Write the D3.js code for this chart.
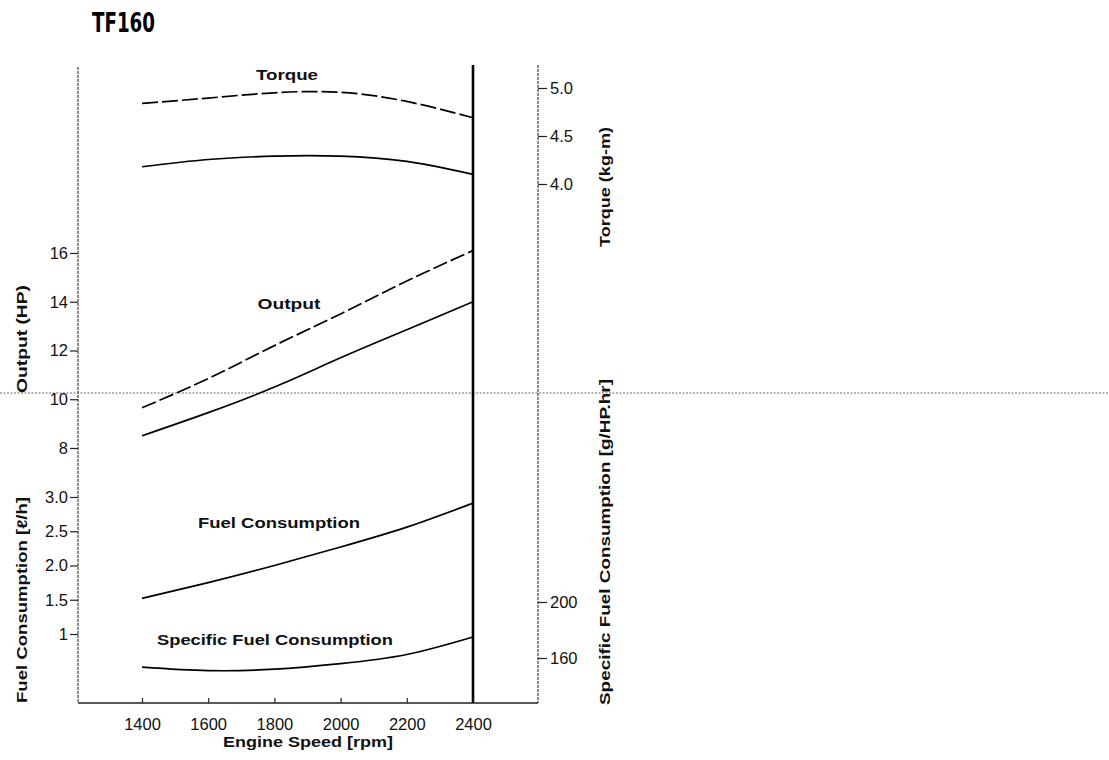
<!DOCTYPE html>
<html>
<head>
<meta charset="utf-8">
<script src="https://cdn.jsdelivr.net/npm/d3@7"></script>
<style>
  body { margin: 0; background: #fff; }
  svg { font-family: "Liberation Sans", Arial, sans-serif; }
</style>
</head>
<body>
<svg width="1109" height="760"></svg>
<script>
// engine speed, rpm
const rpm = [1400, 1600, 1800, 2000, 2200, 2400];
// torque, kg-m (dashed = max, solid = continuous)
const torqueMax = [4.84, 4.895, 4.95, 4.955, 4.86, 4.69];
const torqueCont = [4.18, 4.255, 4.29, 4.29, 4.235, 4.10];
// output, HP
const outputMax = [9.65, 10.85, 12.2, 13.5, 14.85, 16.1];
const outputCont = [8.5, 9.45, 10.5, 11.7, 12.85, 14.0];
// fuel consumption, l/h
const fuelCons = [1.52, 1.75, 2.0, 2.27, 2.56, 2.91];
// specific fuel consumption, g/HP.hr
const specFuel = [153.5, 151, 152, 156, 162.5, 175];

// ticks
const rpmTicks = [1400, 1600, 1800, 2000, 2200, 2400];
const outputTicks = [8, 10, 12, 14, 16];
const fuelTicks = [1, 1.5, 2, 2.5, 3];
const fuelTickLabels = ["1", "1.5", "2.0", "2.5", "3.0"];
const torqueTicks = [4.0, 4.5, 5.0];
const sfcTicks = [160, 200];

const svg = d3.select("svg");

const leftX = 78, rightX = 538, topY = 65, bottomY = 703;

const x = d3.scaleLinear().domain([1400, 2400]).range([142, 473]);
const yTorque = d3.scaleLinear().domain([4.0, 5.0]).range([184, 88]);
const yOutput = d3.scaleLinear().domain([8, 16]).range([448, 253]);
const yFuel = d3.scaleLinear().domain([1, 3]).range([634, 497]);
const ySfc = d3.scaleLinear().domain([160, 200]).range([658, 602]);

// stray scan line across the page
svg.append("line")
    .attr("x1", 0).attr("x2", 1109)
    .attr("y1", 393).attr("y2", 393)
    .attr("stroke", "#9a9a9a")
    .attr("stroke-width", 1.5)
    .attr("stroke-dasharray", "2,1.5");

// title
svg.append("text")
    .attr("x", 92).attr("y", 32)
    .attr("font-family", "'Liberation Sans Narrow', 'DejaVu Sans Condensed', sans-serif")
    .attr("font-weight", "bold")
    .attr("font-size", 26)
    .attr("textLength", 63)
    .attr("lengthAdjust", "spacingAndGlyphs")
    .text("TF160");

// frame lines
svg.append("line")
    .attr("x1", leftX).attr("x2", leftX).attr("y1", 67).attr("y2", bottomY)
    .attr("stroke", "#444").attr("stroke-width", 1.2).attr("stroke-dasharray", "3,1");
svg.append("line")
    .attr("x1", rightX).attr("x2", rightX).attr("y1", topY).attr("y2", bottomY)
    .attr("stroke", "#444").attr("stroke-width", 1.2).attr("stroke-dasharray", "3,1");
svg.append("line")
    .attr("x1", leftX).attr("x2", rightX).attr("y1", bottomY).attr("y2", bottomY)
    .attr("stroke", "#222").attr("stroke-width", 1.3);
// rated speed line
svg.append("line")
    .attr("x1", x(2400)).attr("x2", x(2400)).attr("y1", topY).attr("y2", bottomY)
    .attr("stroke", "#000").attr("stroke-width", 2.6);

// axes
const styleAxis = (g) => {
    g.select(".domain").remove();
    g.selectAll(".tick line").attr("stroke", "#222").attr("stroke-width", 1.2);
    g.selectAll(".tick text")
        .attr("fill", "#111")
        .attr("font-size", 16.5)
        .attr("font-family", "'Liberation Sans', Arial, sans-serif");
};

svg.append("g")
    .attr("transform", `translate(0,${bottomY})`)
    .call(d3.axisBottom(x).tickValues(rpmTicks).tickSize(-5).tickPadding(15).tickFormat(d3.format("d")))
    .call(styleAxis);

svg.append("g")
    .attr("transform", `translate(${leftX},0)`)
    .call(d3.axisLeft(yOutput).tickValues(outputTicks).tickSize(8).tickPadding(2).tickFormat(d3.format("d")))
    .call(styleAxis);

svg.append("g")
    .attr("transform", `translate(${leftX},0)`)
    .call(d3.axisLeft(yFuel).tickValues(fuelTicks).tickSize(8).tickPadding(2)
        .tickFormat((d, i) => fuelTickLabels[i]))
    .call(styleAxis);

svg.append("g")
    .attr("transform", `translate(${rightX},0)`)
    .call(d3.axisRight(yTorque).tickValues(torqueTicks).tickSize(9).tickPadding(3).tickFormat(d3.format(".1f")))
    .call(styleAxis);

svg.append("g")
    .attr("transform", `translate(${rightX},0)`)
    .call(d3.axisRight(ySfc).tickValues(sfcTicks).tickSize(9).tickPadding(3).tickFormat(d3.format("d")))
    .call(styleAxis);

// curves
const drawCurve = (values, yScale, dash) => {
    const line = d3.line()
        .x((d, i) => x(rpm[i]))
        .y((d) => yScale(d))
        .curve(d3.curveNatural);
    svg.append("path")
        .attr("d", line(values))
        .attr("fill", "none")
        .attr("stroke", "#000")
        .attr("stroke-width", 1.7)
        .attr("stroke-dasharray", dash);
};

drawCurve(torqueMax, yTorque, "16,4");
drawCurve(torqueCont, yTorque, null);
drawCurve(outputMax, yOutput, "15,4");
drawCurve(outputCont, yOutput, null);
drawCurve(fuelCons, yFuel, null);
drawCurve(specFuel, ySfc, null);

// curve labels
const label = (txt, cx, by, len) => {
    svg.append("text")
        .attr("x", cx).attr("y", by)
        .attr("text-anchor", "middle")
        .attr("font-size", 14)
        .attr("font-weight", "bold")
        .attr("fill", "#111")
        .attr("textLength", len)
        .attr("lengthAdjust", "spacingAndGlyphs")
        .text(txt);
};
label("Torque", 287, 80, 62);
label("Output", 289, 309, 63);
label("Fuel Consumption", 279, 528, 162);
label("Specific Fuel Consumption", 275, 645, 236);
label("Engine Speed [rpm]", 308, 747, 170);

// vertical axis titles
const vLabel = (txt, bx, cy, len) => {
    svg.append("text")
        .attr("transform", `translate(${bx},${cy}) rotate(-90)`)
        .attr("text-anchor", "middle")
        .attr("font-size", 14)
        .attr("font-weight", "bold")
        .attr("fill", "#111")
        .attr("textLength", len)
        .attr("lengthAdjust", "spacingAndGlyphs")
        .text(txt);
};
vLabel("Output (HP)", 27, 339, 108);
vLabel("Fuel Consumption [ℓ/h]", 27, 600, 206);
vLabel("Torque (kg-m)", 610, 187, 120);
vLabel("Specific Fuel Consumption [g/HP.hr]", 610, 542, 326);
</script>
</body>
</html>
